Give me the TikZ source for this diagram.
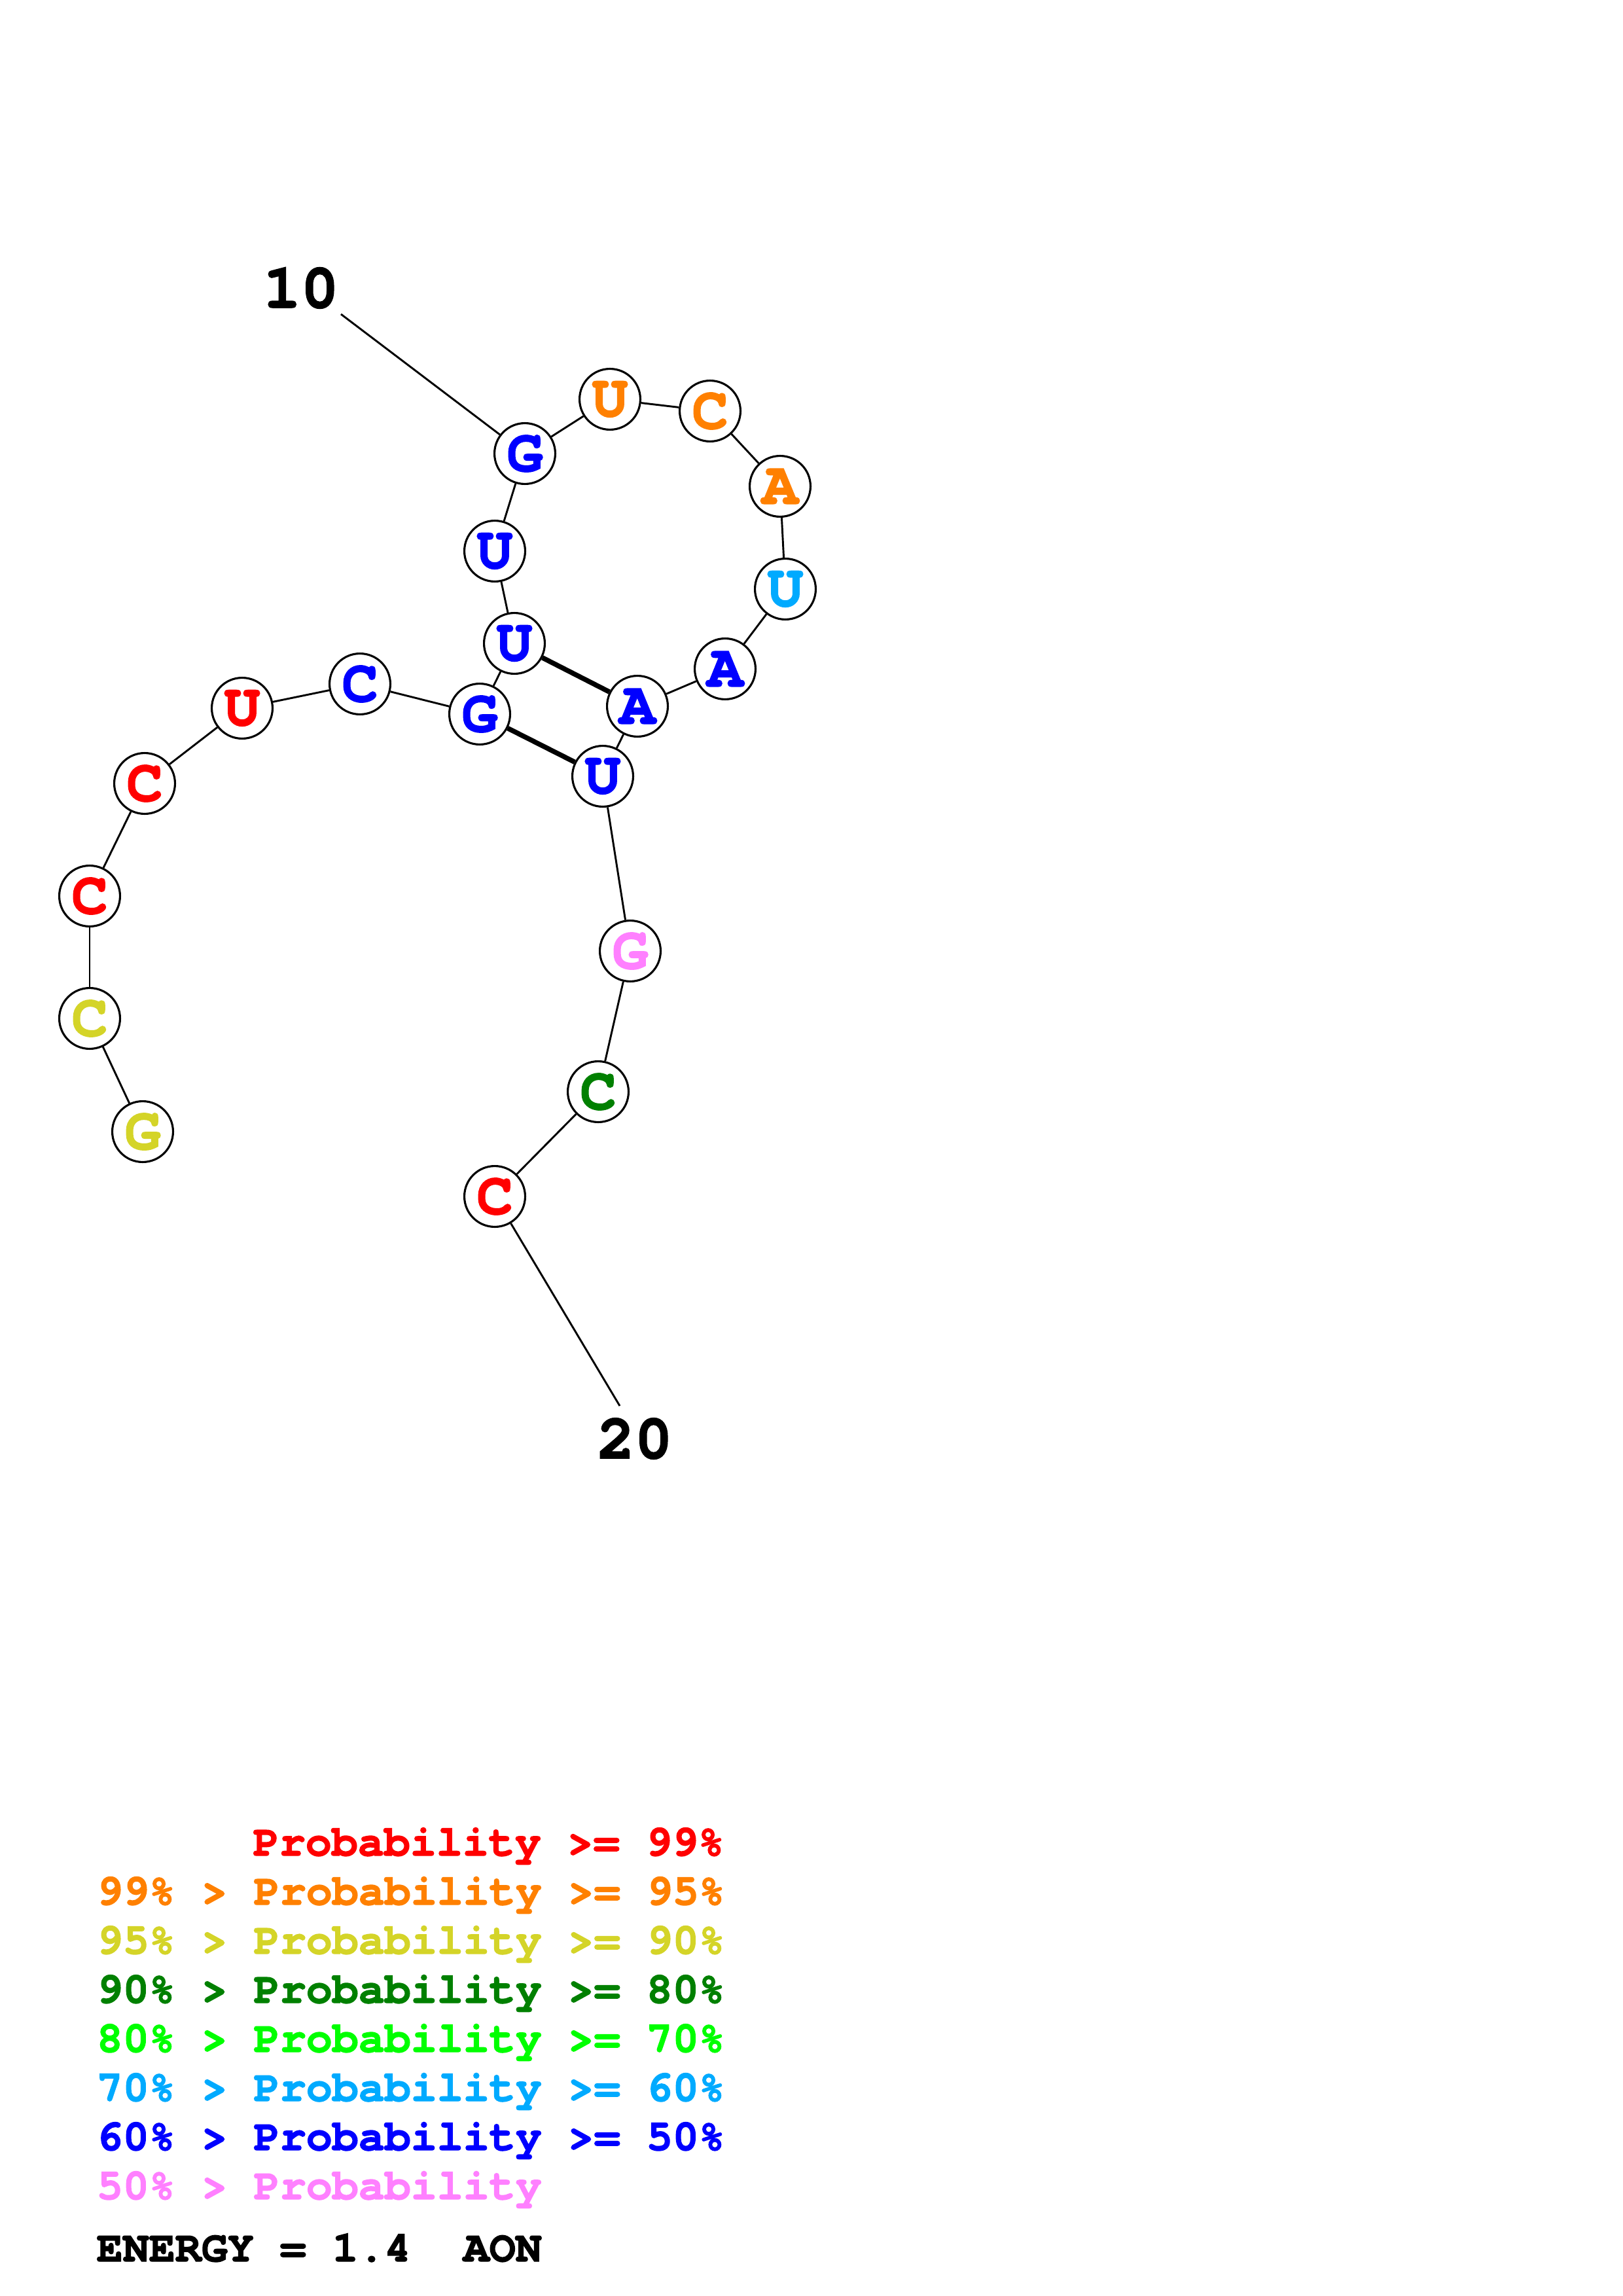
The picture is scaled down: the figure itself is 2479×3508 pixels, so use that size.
\documentclass[tikz,border=0pt]{standalone}
\usepackage{fontspec}
\setmonofont{TeX Gyre Cursor}[BoldFeatures={FakeBold=2}]
\definecolor{cRed}{RGB}{255,0,0}
\definecolor{cOrange}{RGB}{255,128,0}
\definecolor{cYellow}{RGB}{212,212,40}
\definecolor{cDGreen}{RGB}{0,128,0}
\definecolor{cGreen}{RGB}{0,255,0}
\definecolor{cLBlue}{RGB}{0,170,255}
\definecolor{cBlue}{RGB}{0,0,255}
\definecolor{cPink}{RGB}{255,128,255}
\begin{document}
\begin{tikzpicture}[x=0.24pt,y=-0.24pt,
  nuc/.style={circle, draw=black, line width=0.75pt, fill=white, minimum size=22.3pt, inner sep=0pt,
    font=\ttfamily\bfseries\fontsize{22}{22}\selectfont},
  backbone/.style={line width=0.7pt},
  pairline/.style={line width=1.8pt},
  numlabel/.style={inner sep=0pt, font=\ttfamily\bfseries\fontsize{23}{23}\selectfont},
  legend/.style={inner sep=0pt, anchor=base west, font=\ttfamily\bfseries\fontsize{16}{16}\selectfont}]
\useasboundingbox (0,0) rectangle (2479,3508);
% nucleotides
\node[nuc, text=cYellow] (n1) at (218,1729) {\raisebox{-1.4pt}{G}};
\node[nuc, text=cYellow] (n2) at (137,1556) {\raisebox{-1.4pt}{C}};
\node[nuc, text=cRed] (n3) at (137,1369) {\raisebox{-1.4pt}{C}};
\node[nuc, text=cRed] (n4) at (221,1197) {\raisebox{-1.4pt}{C}};
\node[nuc, text=cRed] (n5) at (370,1082) {\raisebox{-1.4pt}{U}};
\node[nuc, text=cBlue] (n6) at (550,1045) {\raisebox{-1.4pt}{C}};
\node[nuc, text=cBlue] (n7) at (733,1091) {\raisebox{-1.4pt}{G}};
\node[nuc, text=cBlue] (n8) at (786,983) {\raisebox{-1.4pt}{U}};
\node[nuc, text=cBlue] (n9) at (756,842) {\raisebox{-1.4pt}{U}};
\node[nuc, text=cBlue] (n10) at (802,693) {\raisebox{-1.4pt}{G}};
\node[nuc, text=cOrange] (n11) at (932,610) {\raisebox{-1.4pt}{U}};
\node[nuc, text=cOrange] (n12) at (1085,628) {\raisebox{-1.4pt}{C}};
\node[nuc, text=cOrange] (n13) at (1192,743) {\raisebox{-1.4pt}{A}};
\node[nuc, text=cLBlue] (n14) at (1200,900) {\raisebox{-1.4pt}{U}};
\node[nuc, text=cBlue] (n15) at (1108,1022) {\raisebox{-1.4pt}{A}};
\node[nuc, text=cBlue] (n16) at (974,1079) {\raisebox{-1.4pt}{A}};
\node[nuc, text=cBlue] (n17) at (921,1186) {\raisebox{-1.4pt}{U}};
\node[nuc, text=cPink] (n18) at (963,1453) {\raisebox{-1.4pt}{G}};
\node[nuc, text=cDGreen] (n19) at (914,1668) {\raisebox{-1.4pt}{C}};
\node[nuc, text=cRed] (n20) at (756,1828) {\raisebox{-1.4pt}{C}};
% backbone
\draw[backbone] (n1) -- (n2);
\draw[backbone] (n2) -- (n3);
\draw[backbone] (n3) -- (n4);
\draw[backbone] (n4) -- (n5);
\draw[backbone] (n5) -- (n6);
\draw[backbone] (n6) -- (n7);
\draw[backbone] (n7) -- (n8);
\draw[backbone] (n8) -- (n9);
\draw[backbone] (n9) -- (n10);
\draw[backbone] (n10) -- (n11);
\draw[backbone] (n11) -- (n12);
\draw[backbone] (n12) -- (n13);
\draw[backbone] (n13) -- (n14);
\draw[backbone] (n14) -- (n15);
\draw[backbone] (n15) -- (n16);
\draw[backbone] (n16) -- (n17);
\draw[backbone] (n17) -- (n18);
\draw[backbone] (n18) -- (n19);
\draw[backbone] (n19) -- (n20);
% base pairs
\draw[pairline] (n8) -- (n16);
\draw[pairline] (n7) -- (n17);
% position labels
\node[numlabel] (l10) at (460,440) {10};
\coordinate (t10) at (521,480);
\draw[backbone] (t10) -- (n10);
\node[numlabel] (l20) at (970,2198) {20};
\coordinate (t20) at (947,2148);
\draw[backbone] (n20) -- (t20);
% legend
\node[legend, text=cRed] (g1) at (386,2835) {Probability >= 99\%};
\node[legend, text=cOrange] (g2) at (147,2910) {99\% > Probability >= 95\%};
\node[legend, text=cYellow] (g3) at (147,2985) {95\% > Probability >= 90\%};
\node[legend, text=cDGreen] (g4) at (147,3060) {90\% > Probability >= 80\%};
\node[legend, text=cGreen] (g5) at (147,3135) {80\% > Probability >= 70\%};
\node[legend, text=cLBlue] (g6) at (147,3210) {70\% > Probability >= 60\%};
\node[legend, text=cBlue] (g7) at (147,3285) {60\% > Probability >= 50\%};
\node[legend, text=cPink] (g8) at (147,3360) {50\% > Probability};
\node[legend, text=black] (en) at (147,3455) {ENERGY = 1.4~~AON};
\end{tikzpicture}
\end{document}
